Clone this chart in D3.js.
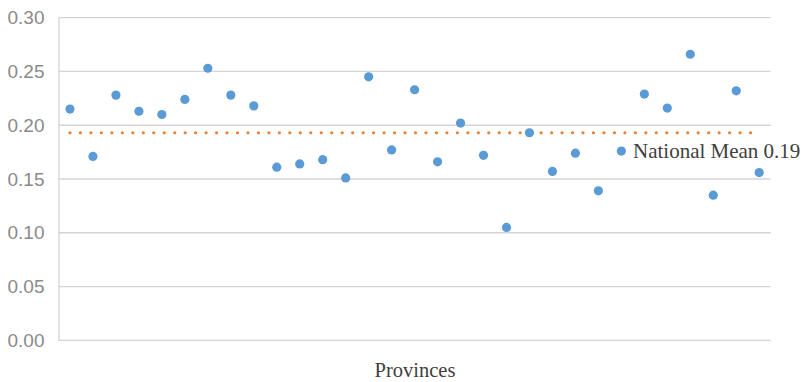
<!DOCTYPE html>
<html>
<head>
<meta charset="utf-8">
<script src="https://cdn.jsdelivr.net/npm/d3@7"></script>
<style>
  html, body { margin: 0; padding: 0; background: #fff; }
  svg { display: block; }
</style>
</head>
<body>
<svg id="chart" width="802" height="382"></svg>
<script>
const provinces = ["1","2","3","4","5","6","7","8","9","10","11","12","13","14","15","16",
                   "17","18","19","20","21","22","23","24","25","26","27","28","29","30","31"];
const values = [0.215, 0.171, 0.228, 0.213, 0.210, 0.224, 0.253, 0.228, 0.218, 0.161,
                0.164, 0.168, 0.151, 0.245, 0.177, 0.233, 0.166, 0.202, 0.172, 0.105,
                0.193, 0.157, 0.174, 0.139, 0.176, 0.229, 0.216, 0.266, 0.135, 0.232, 0.156];
const nationalMean = 0.193;
const meanLabel = "National Mean 0.19";
const yTicks = [0, 0.05, 0.10, 0.15, 0.20, 0.25, 0.30];
const xTitle = "Provinces";

const svg = d3.select("#chart");
const mLeft = 58.5, mRight = 770.7, mTop = 17.7, mBottom = 340.3;

const x = d3.scaleBand().domain(provinces).range([mLeft, mRight]);
const y = d3.scaleLinear().domain([0, 0.30]).range([mBottom, mTop]);
const cx = d => x(d) + x.bandwidth() / 2;

// gridlines
svg.append("g").selectAll("line").data(yTicks).join("line")
  .attr("x1", mLeft).attr("x2", mRight)
  .attr("y1", d => y(d)).attr("y2", d => y(d))
  .attr("stroke", "#d4d4d4").attr("stroke-width", 1.3);

// y axis
const yAxis = d3.axisLeft(y).tickValues(yTicks).tickFormat(d3.format(".2f")).tickSize(0).tickPadding(14);
const ga = svg.append("g").attr("transform", `translate(${mLeft},0)`).call(yAxis);
ga.select(".domain").attr("stroke", "#d4d4d4").attr("stroke-width", 1.3);
ga.selectAll("text")
  .attr("font-family", "'Liberation Sans', Arial, sans-serif")
  .attr("font-size", 19)
  .attr("fill", "#8a8a8a");

// mean line
svg.append("line")
  .attr("x1", cx(provinces[0])).attr("x2", cx(provinces[provinces.length - 1]))
  .attr("y1", y(nationalMean)).attr("y2", y(nationalMean))
  .attr("stroke", "#ed7d31").attr("stroke-width", 3.2)
  .attr("stroke-linecap", "round").attr("stroke-dasharray", "0,10.47");

// points
svg.append("g").selectAll("circle").data(provinces).join("circle")
  .attr("cx", d => cx(d))
  .attr("cy", (d, i) => y(values[i]))
  .attr("r", 4.6)
  .attr("fill", "#5b9bd5");

// mean label
svg.append("text")
  .attr("x", 633).attr("y", 157.5)
  .attr("font-family", "'Liberation Serif', 'Times New Roman', serif")
  .attr("font-size", 21)
  .attr("fill", "#404040")
  .text(meanLabel);

// x title
svg.append("text")
  .attr("x", 415).attr("y", 376.7)
  .attr("text-anchor", "middle")
  .attr("font-family", "'Liberation Serif', 'Times New Roman', serif")
  .attr("font-size", 20.5)
  .attr("fill", "#404040")
  .text(xTitle);
</script>
</body>
</html>
